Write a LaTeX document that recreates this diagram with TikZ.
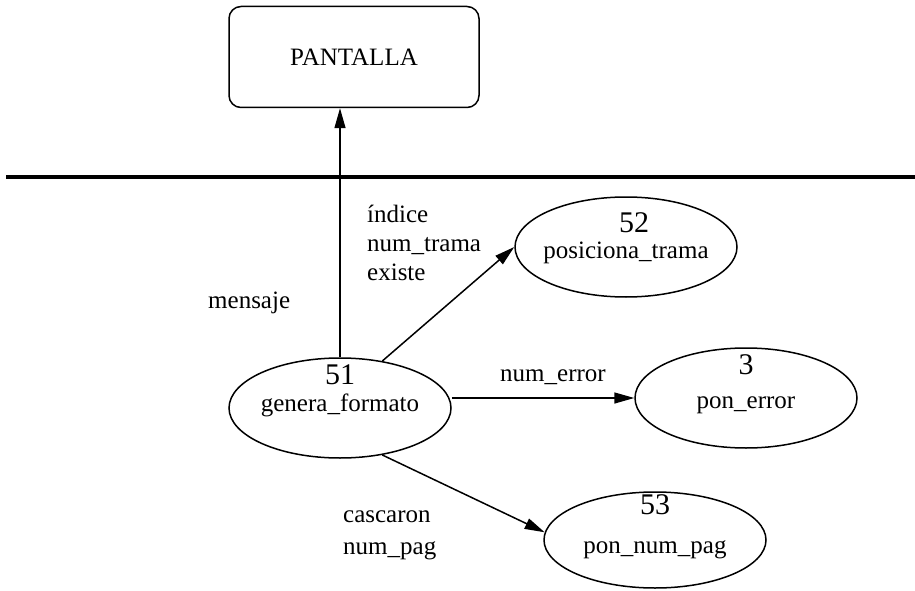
\documentclass[tikz,border=0pt]{standalone}
\usepackage{fontspec}
\setmainfont{Liberation Serif}
\usetikzlibrary{arrows.meta,positioning,shapes.geometric}

\begin{document}
\begin{tikzpicture}[
      x=1pt, y=-1pt,
      flow/.style={draw, line width=1.5pt, -{Triangle[length=20pt,width=11pt]}},
      proc/.style={
          ellipse, draw, line width=1.5pt,
          minimum width=222pt, minimum height=100pt,
          inner sep=0pt
        },
      pnum/.style={font=\fontsize{30}{32}\selectfont, inner sep=0pt},
      pname/.style={font=\fontsize{25}{28}\selectfont, inner sep=0pt,
          text height=0.7em, text depth=0.22em},
      flowlabel/.style={font=\fontsize{25}{29}\selectfont, align=left, inner sep=0pt},
      terminal/.style={
          rectangle, draw, rounded corners=12pt, line width=1.5pt,
          minimum width=250pt, minimum height=101pt,
          font=\fontsize{25}{28}\selectfont
        },
    ]
    \useasboundingbox (0,0) rectangle (915,591);

    % external entity, above the system boundary
    \node[terminal] (pan) at (354,57) {PANTALLA};
    \draw[line width=3.5pt] (6,177) -- (915,177);

    % processes
    \node[proc] (gf) at (340,408) {};
    \node[pnum] (gf-num) at ([yshift=33pt]gf.center) {51};
    \node[pname] (gf-name) at ([yshift=-1pt]gf.center) {genera\_formato};

    \node[proc] (pt) at (626,247) {};
    \node[pnum] (pt-num) at ([xshift=8pt,yshift=24pt]pt.center) {52};
    \node[pname] (pt-name) at ([yshift=-9pt]pt.center) {posiciona\_trama};

    \node[proc] (pe) at (746,398) {};
    \node[pnum] (pe-num) at ([yshift=33pt]pe.center) {3};
    \node[pname] (pe-name) at ([yshift=-8pt]pe.center) {pon\_error};

    \node[proc, minimum height=96pt] (ppg) at (655,540) {};
    \node[pnum] (ppg-num) at ([yshift=35pt]ppg.center) {53};
    \node[pname] (ppg-name) at ([yshift=-11pt]ppg.center) {pon\_num\_pag};

    % data flows
    \draw[flow] (gf.north) -- (gf.north |- pan.south);
    \draw[flow] (gf.48) -- (pt.west);
    \draw[flow] (gf.east |- pe.west) -- (pe.west);
    \draw[flow] (gf.-48) -- (ppg.176);

    % flow labels
    \node[flowlabel, anchor=base west] (l-msg) at (208,308) {mensaje};
    \node[flowlabel, anchor=north west] (l-pos) at (367,205) {índice\\num\_trama\\existe};
    \node[flowlabel, anchor=base west] (l-err) at (500,381) {num\_error};
    \node[flowlabel, anchor=north west] (l-pag) at (343,511) {cascaron\\[3pt]num\_pag};
\end{tikzpicture}
\end{document}
